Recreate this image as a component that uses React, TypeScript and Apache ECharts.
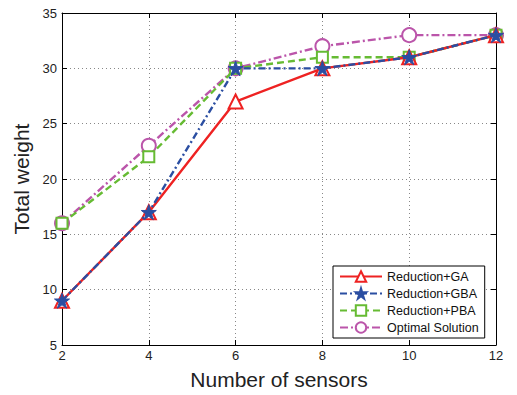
import React, { useEffect, useRef } from "react";
import * as echarts from "echarts";

const sensors = [2, 4, 6, 8, 10, 12];
const gaValues = [9, 17, 27, 30, 31, 33];
const gbaValues = [9, 17, 30, 30, 31, 33];
const pbaValues = [16, 22, 30, 31, 31, 33];
const optimalValues = [16, 23, 30, 32, 33, 33];
const seriesNames = ["Reduction+GA", "Reduction+GBA", "Reduction+PBA", "Optimal Solution"];

const STAR = "path://M50,0 L61,35 L98,35 L68,57 L79,91 L50,70 L21,91 L32,57 L2,35 L39,35 Z";
const FONT = "Liberation Sans, Arial, sans-serif";

export default function App() {
  const ref = useRef<HTMLDivElement>(null);
  useEffect(() => {
    const chart = echarts.init(ref.current!, null, { renderer: "svg" });
    const pair = (vals: number[]) => sensors.map((s, i) => [s, vals[i]]);
    const gridLine = { show: true, lineStyle: { color: "#888", type: [1, 3], width: 1 } };
    const axisLine = { show: true, lineStyle: { color: "#000", width: 1 } };
    const tick = { show: true, inside: true, length: 5, lineStyle: { color: "#000" } };
    chart.setOption({
      animation: false,
      backgroundColor: "#fff",
      grid: { left: 62, right: 21, top: 13, bottom: 46, containLabel: false },
      xAxis: [
        {
          type: "value", min: 2, max: 12, interval: 2,
          axisLine, axisTick: tick, splitLine: gridLine,
          axisLabel: { color: "#222", fontSize: 13, fontFamily: FONT, margin: 4 },
          name: "Number of sensors", nameLocation: "middle", nameGap: 24,
          nameTextStyle: { color: "#222", fontSize: 21, fontFamily: FONT },
        },
        {
          type: "value", position: "top", min: 2, max: 12, interval: 2,
          axisLine, axisTick: tick, splitLine: { show: false }, axisLabel: { show: false },
        },
      ],
      yAxis: [
        {
          type: "value", min: 5, max: 35, interval: 5,
          axisLine, axisTick: tick, splitLine: gridLine,
          axisLabel: { color: "#222", fontSize: 13, fontFamily: FONT, margin: 5 },
          name: "Total weight", nameLocation: "middle", nameGap: 29,
          nameTextStyle: { color: "#222", fontSize: 21, fontFamily: FONT },
        },
        {
          type: "value", position: "right", min: 5, max: 35, interval: 5,
          axisLine, axisTick: tick, splitLine: { show: false }, axisLabel: { show: false },
        },
      ],
      legend: {
        orient: "vertical", left: 333, top: 266,
        data: seriesNames,
        backgroundColor: "#fff", borderColor: "#000", borderWidth: 1,
        padding: [4, 6, 4, 6], itemGap: 4, itemWidth: 42, itemHeight: 13,
        textStyle: { color: "#111", fontSize: 12.5, fontFamily: FONT },
      },
      series: [
        {
          name: seriesNames[0], type: "line", data: pair(gaValues), z: 4,
          symbol: "triangle", symbolSize: 14,
          lineStyle: { color: "#ee2222", width: 2.4, type: "solid" },
          itemStyle: { color: "#fff", borderColor: "#ee2222", borderWidth: 2 },
        },
        {
          name: seriesNames[1], type: "line", data: pair(gbaValues), z: 5,
          symbol: STAR, symbolSize: 15,
          lineStyle: { color: "#2b4ea2", width: 2.4, type: [7, 3, 2, 3] },
          itemStyle: { color: "#2b4ea2", borderColor: "#2b4ea2", borderWidth: 1 },
        },
        {
          name: seriesNames[2], type: "line", data: pair(pbaValues), z: 3,
          symbol: "rect", symbolSize: 11,
          lineStyle: { color: "#66bb33", width: 2.4, type: [7, 4] },
          itemStyle: { color: "#fff", borderColor: "#66bb33", borderWidth: 2 },
        },
        {
          name: seriesNames[3], type: "line", data: pair(optimalValues), z: 2,
          symbol: "circle", symbolSize: 14,
          lineStyle: { color: "#bb55aa", width: 2.4, type: [8, 3, 2, 3] },
          itemStyle: { color: "#fff", borderColor: "#bb55aa", borderWidth: 2 },
        },
      ],
    });
    return () => chart.dispose();
  }, []);
  return <div ref={ref} style={{ width: 517, height: 395, position: "absolute", left: 0, top: 0 }} />;
}
